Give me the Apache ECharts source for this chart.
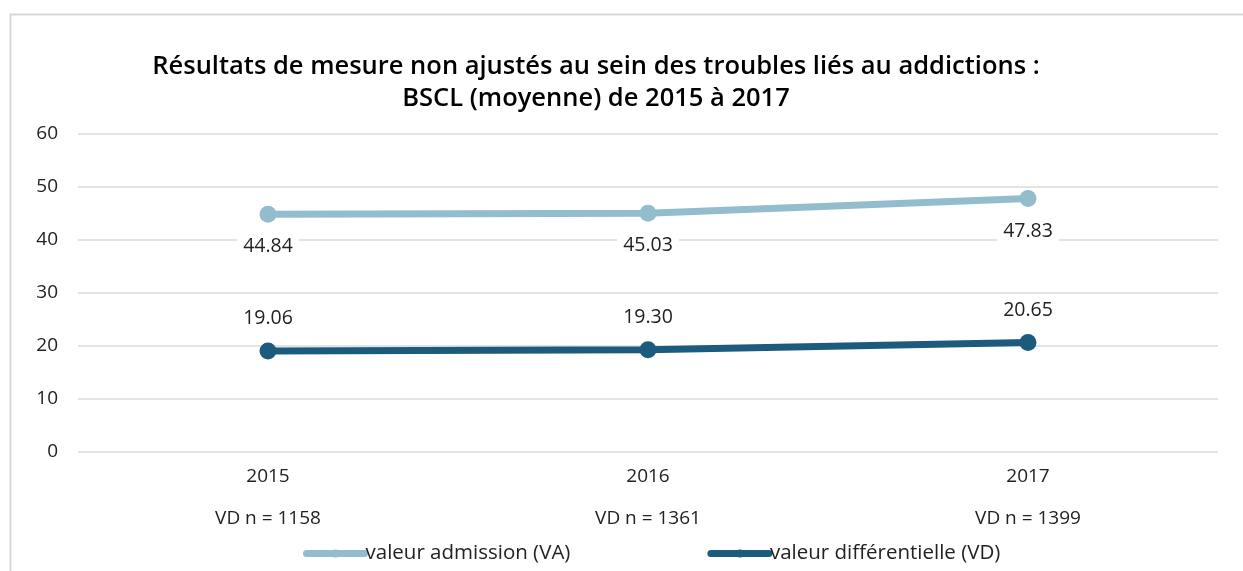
<!DOCTYPE html>
<html>
<head>
<meta charset="utf-8">
<script src="https://cdn.jsdelivr.net/npm/echarts@6/dist/echarts.min.js"></script>
<style>
html,body{margin:0;padding:0;background:#fff;}
#chart{width:1243px;height:571px;}
</style>
</head>
<body>
<div id="chart"></div>
<script>
const years = ['2015', '2016', '2017'];
const vdCounts = ['1158', '1361', '1399'];
const seriesNames = ['valeur admission (VA)', 'valeur différentielle (VD)'];
const vaValues = [44.84, 45.03, 47.83];
const vdValues = [19.06, 19.30, 20.65];
const yTicks = [0, 10, 20, 30, 40, 50, 60];

const categories = years.map((y, i) => y + '\nVD n = ' + vdCounts[i]);
const FONT = '"Open Sans", "Noto Sans", sans-serif';
const LIGHT = '#93bccd';
const DARK = '#1d5b7e';

const chart = echarts.init(document.getElementById('chart'));
const labelBase = {
  show: true,
  formatter: p => p.value.toFixed(2),
  fontFamily: FONT,
  fontSize: 19.5,
  color: '#222',
  backgroundColor: '#fff',
  padding: [2, 6]
};
chart.setOption({
  animation: false,
  textStyle: { fontFamily: FONT },
  graphic: [{
    type: 'rect', left: 8, top: 12, silent: true,
    shape: { width: 1400, height: 700 },
    style: { fill: 'none', stroke: '#d9d9d9', lineWidth: 2 }
  }],
  title: {
    text: 'Résultats de mesure non ajustés au sein des troubles liés au addictions :\nBSCL (moyenne) de 2015 à 2017',
    left: 591, top: 46, textAlign: 'center',
    textStyle: { fontFamily: FONT, fontSize: 25.5, fontWeight: 600, color: '#000', lineHeight: 32 }
  },
  legend: {
    data: seriesNames,
    top: 538, left: 298,
    itemWidth: 58, itemHeight: 10, itemGap: 137,
    lineStyle: { width: 7, cap: 'round' },
    textStyle: { fontFamily: FONT, fontSize: 20.5, color: '#222', padding: [0, 0, 0, -4] }
  },
  grid: { left: 78, right: 25, top: 134, bottom: 119 },
  xAxis: {
    type: 'category', data: categories, boundaryGap: true,
    axisLine: { show: false }, axisTick: { show: false },
    axisLabel: { fontFamily: FONT, fontSize: 19, color: '#222', lineHeight: 42, margin: 4 }
  },
  yAxis: {
    type: 'value', min: yTicks[0], max: yTicks[yTicks.length - 1], interval: 10,
    axisLine: { show: false }, axisTick: { show: false },
    axisLabel: { fontFamily: FONT, fontSize: 19, color: '#222', margin: 20 },
    splitLine: { lineStyle: { color: '#e3e3e3', width: 2 } }
  },
  series: [{
    name: seriesNames[0], type: 'line', data: vaValues,
    symbol: 'circle', symbolSize: 17,
    lineStyle: { width: 7, color: LIGHT },
    itemStyle: { color: LIGHT },
    label: Object.assign({}, labelBase, { position: 'bottom', distance: 12 })
  }, {
    name: seriesNames[1], type: 'line', data: vdValues,
    symbol: 'circle', symbolSize: 17,
    lineStyle: { width: 7, color: DARK },
    itemStyle: { color: DARK },
    label: Object.assign({}, labelBase, { position: 'top', distance: 12 })
  }]
});
</script>
</body>
</html>
